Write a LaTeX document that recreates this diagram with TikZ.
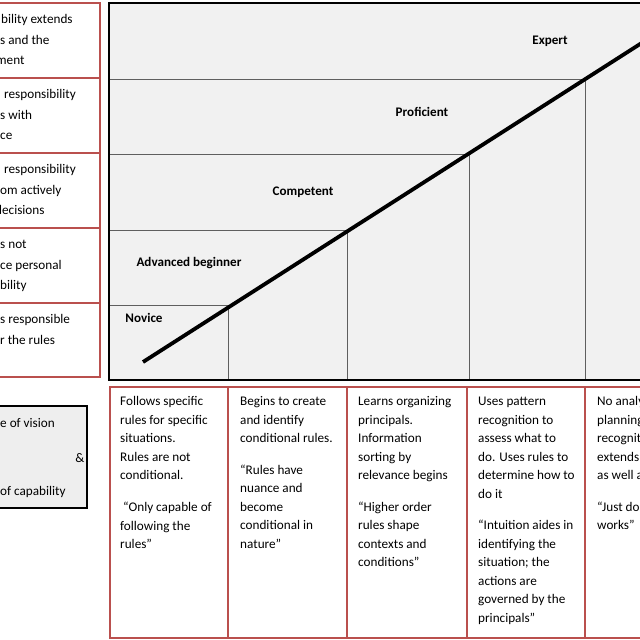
\documentclass[tikz,border=0pt]{standalone}
\usepackage{fontspec}
\setmainfont{Carlito}
\definecolor{redb}{RGB}{186,80,78}
\definecolor{chartbg}{RGB}{241,241,241}
\definecolor{innerl}{RGB}{95,95,95}
\definecolor{graybox}{RGB}{238,238,238}
\begin{document}
\begin{tikzpicture}[x=1pt,y=-1pt,
  txt/.style={font=\fontsize{13.2}{16}\selectfont, inner sep=0, anchor=base west},
  lvl/.style={font=\fontsize{13.1}{16}\selectfont\bfseries, inner sep=0, anchor=base},
  redbox/.style={draw=redb, line width=2.2pt},
  innerline/.style={draw=innerl, line width=0.9pt},
  diag/.style={line width=3.8pt, black}]
\useasboundingbox (0,0) rectangle (640,640);
\clip (0,0) rectangle (640,640);
\fill[white] (0,0) rectangle (640,640);

% chart area
\fill[chartbg] (109,3) rectangle (660,380);
\draw[innerline] (109,305) -| (228,380);
\draw[innerline] (109,230) -| (347,380);
\draw[innerline] (109,154) -| (469,380);
\draw[innerline] (109,79) -| (585,380);
\draw[line width=2.2pt] (109,3) rectangle (660,380);

\coordinate (ds) at (143,362);
\coordinate (de) at (662,30);
\draw[diag] (ds) -- (de);

\node[lvl] (expert) at (550,44.5) {Expert};
\node[lvl] (prof) at (422,116.5) {Proficient};
\node[lvl] (comp) at (303,195) {Competent};
\node[lvl] (adv) at (189,266) {Advanced beginner};
\node[lvl] (nov) at (144,322) {Novice};

% left column
\draw[redbox] (-10,3) rectangle (100,78);
\draw[redbox] (-10,78) rectangle (100,153);
\draw[redbox] (-10,153) rectangle (100,228);
\draw[redbox] (-10,228) rectangle (100,303);
\draw[redbox] (-10,303) rectangle (100,377);

\foreach \x/\y/\t [count=\i] in {
  1/19/bility extends, 0/39.5/s and the, -4/60/ment,
  4/94/responsibility, 0/114.5/s with, 0/135/ce,
  4/169/responsibility, 0/189.5/om actively, -5/210/decisions,
  0/244/s not, 0/264.5/ce personal, 0/285/bility,
  0/319/s responsible, 0/339.5/r the rules}
  \node[txt] (l\i) at (\x,\y+4.6) {\t};

% scope box
\draw[line width=2.4pt, fill=graybox] (-10,406) rectangle (87,508);
\node[txt] (s1) at (0,427.6) {e of vision};
\node[txt, anchor=base] (s2) at (80,462.6) {\&};
\node[txt] (s3) at (0,495.6) {of capability};

% bottom columns
\draw[redbox] (110,387) rectangle (228,638);
\draw[redbox] (228,387) rectangle (347,638);
\draw[redbox] (347,387) rectangle (467,638);
\draw[redbox] (467,387) rectangle (585,638);
\draw[redbox] (585,387) rectangle (660,638);

\foreach \x/\y/\t [count=\i] in {
  120/401/Follows specific, 120/419.5/rules for specific, 120/438/situations.,
  120/456.5/Rules are not, 120/475/conditional., 123/507/“Only capable of,
  120/525.5/following the, 120/544/rules”}
  \node[txt] (a\i) at (\x,\y+4.6) {\t};

\foreach \x/\y/\t [count=\i] in {
  240/401/Begins to create, 240/419.5/and identify, 240/438/conditional rules.,
  240/469.5/“Rules have, 240/488/nuance and, 240/506.5/become,
  240/525/conditional in, 240/543.5/nature”}
  \node[txt] (b\i) at (\x,\y+4.6) {\t};

\foreach \x/\y/\t [count=\i] in {
  358/401/Learns organizing, 358/419.5/principals., 358/438/Information,
  358/456.5/sorting by, 358/475/relevance begins, 358/506.5/“Higher order,
  358/525/rules shape, 358/543.5/contexts and, 358/562/conditions”}
  \node[txt] (c\i) at (\x,\y+4.6) {\t};

\foreach \x/\y/\t [count=\i] in {
  478/401/Uses pattern, 478/419.5/recognition to, 478/438/assess what to,
  478/456.5/do. Uses rules to, 478/475/determine how to, 478/493.5/do it,
  478/525/“Intuition aides in, 478/543.5/identifying the, 478/562/situation; the,
  478/580.5/actions are, 478/599/governed by the, 478/617.5/principals”}
  \node[txt] (d\i) at (\x,\y+4.6) {\t};

\foreach \x/\y/\t [count=\i] in {
  597/401/No analytic, 597/419.5/planning, 597/438/recognition,
  597/456.5/extends to, 597/475/as well as, 597/506.5/“Just does,
  597/525/works”}
  \node[txt] (e\i) at (\x,\y+4.6) {\t};
\end{tikzpicture}
\end{document}
